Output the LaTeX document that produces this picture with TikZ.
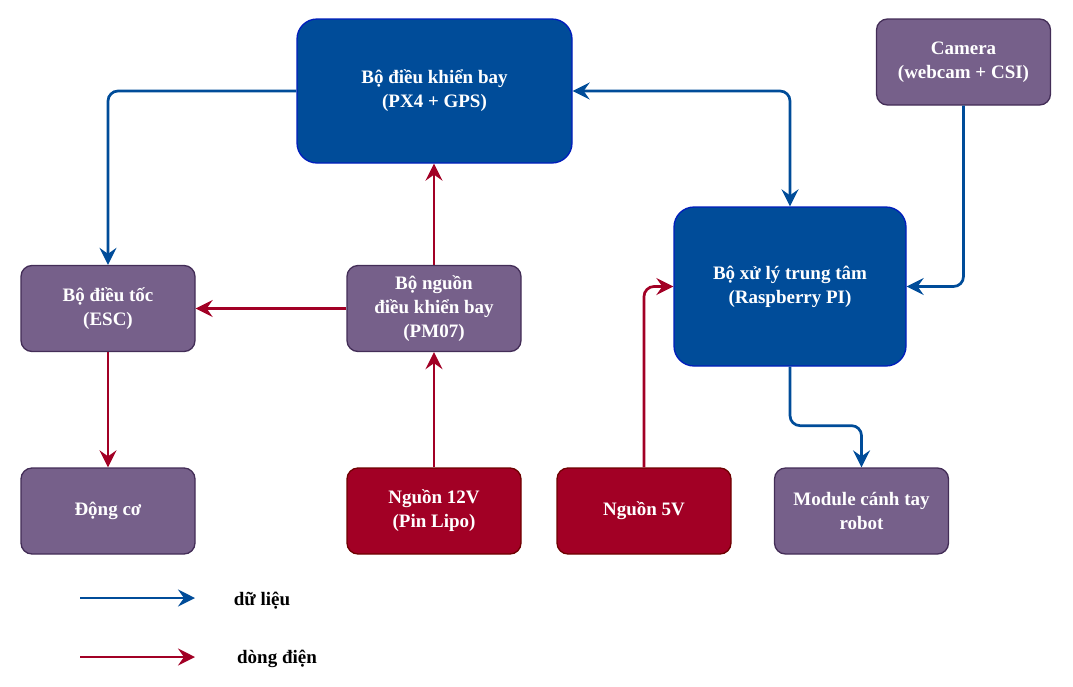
\documentclass[tikz,border=0pt]{standalone}
\usepackage{fontspec}
\setmainfont{Liberation Serif}
\usetikzlibrary{arrows.meta}
\definecolor{fcblue}{HTML}{004C99}
\definecolor{fcedge}{HTML}{001DBC}
\definecolor{boxpurple}{HTML}{76608A}
\definecolor{purpleedge}{HTML}{432D57}
\definecolor{pwrred}{HTML}{A20025}
\definecolor{rededge}{HTML}{6F0000}
\begin{document}
\begin{tikzpicture}[x=1pt, y=-1pt, >={Stealth[length=17pt,width=17pt,inset=6pt]},
    font=\fontsize{19}{24}\selectfont\bfseries]
        \tikzstyle{block} = [draw, rectangle, line width=1.3pt, text=white, align=center,
          minimum width=174pt, minimum height=86pt, rounded corners=11pt]
        \tikzstyle{mainblock} = [block, fill=fcblue, draw=fcedge, rounded corners=20pt]
        \tikzstyle{unit} = [block, fill=boxpurple, draw=purpleedge]
        \tikzstyle{source} = [block, fill=pwrred, draw=rededge]
        \tikzstyle{data} = [->, line width=2.7pt, draw=fcblue, rounded corners=10pt]
        \tikzstyle{power} = [->, line width=2.7pt, draw=pwrred, rounded corners=10pt]

        \useasboundingbox (0,0) rectangle (1073,686);

        \node [mainblock, minimum width=275pt, minimum height=144pt] (fc) at (434.5,91) {%
          Bộ điều khiển bay\\ (PX4 + GPS)};
        \node [unit] (cam) at (963.5,62) {Camera\\ (webcam + CSI)};
        \node [unit] (esc) at (108,308.5) {Bộ điều tốc\\ (ESC)};
        \node [unit] (pm) at (434,308.5) {Bộ nguồn\\ điều khiển bay\\ (PM07)};
        \node [mainblock, minimum width=232pt, minimum height=159pt] (rpi) at (790,286.5) {%
          Bộ xử lý trung tâm\\ (Raspberry PI)};
        \node [unit] (motor) at (108,511) {Động cơ};
        \node [source] (bat12) at (434,511) {Nguồn 12V\\ (Pin Lipo)};
        \node [source] (bat5) at (644,511) {Nguồn 5V};
        \node [unit] (arm) at (861.5,511) {Module cánh tay\\ robot};

        \draw [data] (fc.west) -| (esc.north);
        \draw [data, <->] (fc.east) -| (rpi.north);
        \draw [data] (cam.south) |- (rpi.east);
        \draw [data] (rpi.south) -- ++(0,59) -| (arm.north);
        \draw [power] (pm.north) -- (pm.north |- fc.south);
        \draw [power] (pm.west) -- (esc.east);
        \draw [power] (esc.south) -- (motor.north);
        \draw [power] (bat12.north) -- (pm.south);
        \draw [power] (bat5.north) |- (rpi.west);

        % chu thich
        \coordinate (datastart) at (80,598);
        \coordinate (dataend) at (195,598);
        \coordinate (powerstart) at (80,657);
        \coordinate (powerend) at (195,657);
        \node (datalabel) at (262,601) {dữ liệu};
        \node (powerlabel) at (277,659) {dòng điện};
        \draw [data] (datastart) -- (dataend);
        \draw [power] (powerstart) -- (powerend);
    \end{tikzpicture}
\end{document}
